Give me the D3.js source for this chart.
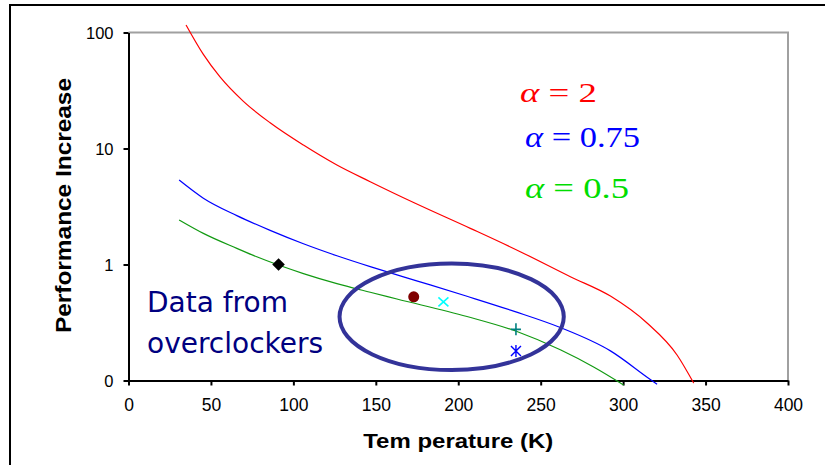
<!DOCTYPE html>
<html>
<head>
<meta charset="utf-8">
<script src="https://cdn.jsdelivr.net/npm/d3@7"></script>
<style>
  body { margin: 0; background: #fff; }
  svg { display: block; }
</style>
</head>
<body>
<svg id="chart" width="825" height="465"></svg>
<script>
// model curves: temperature (K) and performance increase
const redT   = [34.9, 45.4, 55.5, 69.7, 85.9, 106.1, 126.4, 146.6, 173.9, 207.3, 237.6, 268, 292.3, 314.5, 332.7, 342.8];
const redV   = [116, 64.7, 41.4, 25.5, 16.66, 10.7, 7.2, 5.17, 3.37, 2.05, 1.29, 0.785, 0.534, 0.313, 0.166, 0.095];
const blueT  = [30.7, 45.4, 65.7, 85.9, 106.1, 126.4, 146.6, 166.8, 183, 205.3, 234, 261.9, 292.3, 316.5, 320.6];
const blueV  = [5.35, 3.73, 2.64, 1.97, 1.51, 1.19, 0.959, 0.782, 0.667, 0.532, 0.394, 0.286, 0.18, 0.102, 0.093];
const greenT = [30.7, 45.4, 65.7, 77.8, 106.1, 126.4, 146.6, 162.8, 205.3, 235.6, 261.9, 282.1, 300.3];
const greenV = [2.42, 1.854, 1.377, 1.165, 0.835, 0.684, 0.576, 0.504, 0.356, 0.2645, 0.184, 0.1308, 0.0915];

// overclocker measurements
const ocT     = [91, 173, 191, 235, 235];
const ocV     = [1.0, 0.527, 0.477, 0.276, 0.18];
const ocShape = ["diamond", "circle", "x", "plus", "asterisk"];

// axes
const xTicks = [0, 50, 100, 150, 200, 250, 300, 350, 400];
const yTicks = [0.1, 1, 10, 100];
const yTickLabels = ["0", "1", "10", "100"];

const svg = d3.select("#chart");

const x = d3.scaleLinear().domain([0, 400]).range([128.5, 788]);
const y = d3.scaleLog().domain([0.1, 100]).range([380.5, 32.5]);

// outer frame (only left and top edges show in the picture)
svg.append("rect")
  .attr("x", 10).attr("y", 5)
  .attr("width", 840).attr("height", 500)
  .attr("fill", "none")
  .attr("stroke", "#000")
  .attr("stroke-width", 2);

// gray plot border top and right
svg.append("path")
  .attr("d", `M${x(0)},${y(100)}H${x(400)}V${y(0.1)}`)
  .attr("fill", "none")
  .attr("stroke", "#a0a0a0")
  .attr("stroke-width", 2);

// y axis
const yAxis = svg.append("g")
  .attr("transform", `translate(${x(0)},0)`)
  .call(d3.axisLeft(y).tickValues(yTicks)
    .tickFormat((d, i) => yTickLabels[i])
    .tickSize(5).tickSizeOuter(0).tickPadding(10));
yAxis.selectAll("text")
  .style("font-family", "'Liberation Sans', Arial, sans-serif")
  .style("font-size", "16.5px")
  .attr("dy", "0.38em")
  .attr("fill", "#000");

// x axis
const xAxis = svg.append("g")
  .attr("transform", `translate(0,${y(0.1)})`)
  .call(d3.axisBottom(x).tickValues(xTicks)
    .tickSize(5).tickSizeOuter(0).tickPadding(13));
xAxis.selectAll("text")
  .style("font-family", "'Liberation Sans', Arial, sans-serif")
  .style("font-size", "17.5px")
  .attr("fill", "#000");

svg.selectAll(".domain, .tick line")
  .attr("stroke", "#000")
  .attr("stroke-width", 2);

// axis titles
svg.append("text")
  .attr("transform", "translate(71,205.5) rotate(-90)")
  .attr("text-anchor", "middle")
  .style("font-family", "'Liberation Sans', Arial, sans-serif")
  .style("font-weight", "bold")
  .style("font-size", "22px")
  .attr("textLength", 255)
  .attr("lengthAdjust", "spacingAndGlyphs")
  .text("Performance Increase");

svg.append("text")
  .attr("x", (x(0) + x(400)) / 2)
  .attr("y", 448)
  .attr("text-anchor", "middle")
  .style("font-family", "'Liberation Sans', Arial, sans-serif")
  .style("font-weight", "bold")
  .style("font-size", "21px")
  .attr("textLength", 190)
  .attr("lengthAdjust", "spacingAndGlyphs")
  .text("Tem perature (K)");

// curves
const line = d3.line()
  .x(d => x(d[0]))
  .y(d => y(d[1]))
  .curve(d3.curveMonotoneX);

const curves = [
  { pts: d3.zip(redT, redV),     color: "#ff0000" },
  { pts: d3.zip(blueT, blueV),   color: "#0000ff" },
  { pts: d3.zip(greenT, greenV), color: "#129a12" }
];

svg.selectAll(".curve")
  .data(curves)
  .join("path")
    .attr("class", "curve")
    .attr("fill", "none")
    .attr("stroke", d => d.color)
    .attr("stroke-width", 1.2)
    .attr("d", d => line(d.pts));

// ellipse around the overclocker points
const eL = x(128), eR = x(264), eT = y(1.02), eB = y(0.123);
svg.append("ellipse")
  .attr("cx", (eL + eR) / 2)
  .attr("cy", (eT + eB) / 2)
  .attr("rx", (eR - eL) / 2)
  .attr("ry", (eB - eT) / 2)
  .attr("fill", "none")
  .attr("stroke", "#333399")
  .attr("stroke-width", 4);

// markers
const points = ocT.map((t, i) => ({ t: t, v: ocV[i], shape: ocShape[i] }));
const m = svg.append("g");
points.forEach(p => {
  const g = m.append("g").attr("transform", `translate(${x(p.t)},${y(p.v)})`);
  if (p.shape === "diamond") {
    g.append("path").attr("d", d3.symbol(d3.symbolDiamond2, 100)()).attr("fill", "#000");
  } else if (p.shape === "circle") {
    g.append("circle").attr("r", 5.5).attr("fill", "#800000");
  } else if (p.shape === "x") {
    g.append("path").attr("d", "M-5,-4.5L5,4.5M-5,4.5L5,-4.5")
      .attr("stroke", "#00ffff").attr("stroke-width", 1.6);
  } else if (p.shape === "plus") {
    g.append("path").attr("d", "M-5,0H5M0,-6V6")
      .attr("stroke", "#008080").attr("stroke-width", 1.6);
  } else {
    g.append("path").attr("d", "M-5,-5L5,5M-5,5L5,-5M0,-6V6")
      .attr("stroke", "#0000ff").attr("stroke-width", 1.4);
  }
});

// annotation text
const note = svg.append("text")
  .style("font-family", "'DejaVu Sans', Verdana, sans-serif")
  .style("font-size", "28px")
  .attr("fill", "#000080");
note.append("tspan").attr("x", 147).attr("y", 312).text("Data from");
note.append("tspan").attr("x", 147).attr("y", 353).text("overclockers");

// alpha labels
const alphaLabels = [
  { val: "2",    color: "#ff0000", x: 520, y: 102, size: 28, w: 77 },
  { val: "0.75", color: "#0000ff", x: 525, y: 147, size: 29, w: 115 },
  { val: "0.5",  color: "#00dd00", x: 525, y: 198, size: 30, w: 104 }
];
alphaLabels.forEach(a => {
  const t = svg.append("text")
    .attr("x", a.x).attr("y", a.y)
    .style("font-family", "'Liberation Serif', 'Times New Roman', serif")
    .style("font-size", a.size + "px")
    .attr("fill", a.color)
    .attr("textLength", a.w)
    .attr("lengthAdjust", "spacingAndGlyphs");
  t.append("tspan").attr("font-style", "italic").text("\u03b1");
  t.append("tspan").text(" = " + a.val);
});
</script>
</body>
</html>
